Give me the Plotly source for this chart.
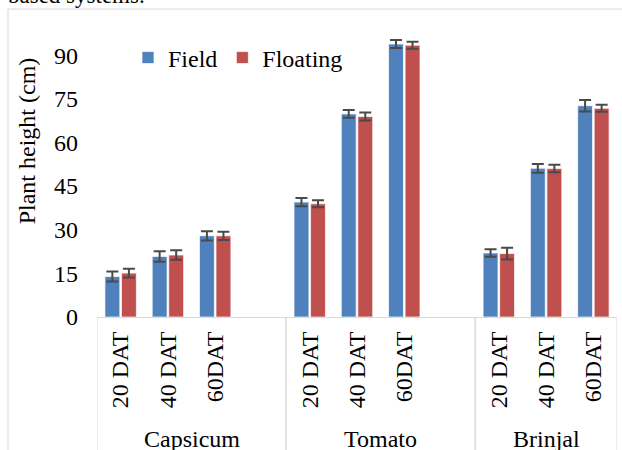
import plotly.graph_objects as go

crops = ["Capsicum", "Tomato", "Brinjal"]
stages = ["20 DAT", "40 DAT", "60DAT"]
field = [13.9, 20.8, 27.9, 39.5, 69.8, 93.8, 22.0, 51.1, 72.6]
floating = [15.1, 21.3, 27.9, 38.9, 68.9, 93.4, 21.8, 51.0, 71.7]
field_err = [1.7, 1.8, 1.6, 1.4, 1.3, 1.4, 1.3, 1.5, 2.0]
floating_err = [1.5, 1.6, 1.4, 1.2, 1.4, 1.2, 2.0, 1.3, 1.2]
y_ticks = [0, 15, 30, 45, 60, 75, 90]

FONT = "Liberation Serif"
GRID = "#D9D9D9"

# category slots (a blank slot after each crop except the last)
slots, slot_text, bar_x, group_bounds = [], [], [], []
for ci, crop in enumerate(crops):
    start = len(slots)
    for st in stages:
        key = f"{crop}|{st}"
        slots.append(key)
        slot_text.append(st)
        bar_x.append(key)
    if ci < len(crops) - 1:
        slots.append(f"{crop}|gap")
        slot_text.append("")
    group_bounds.append((start - 0.5, len(slots) - 0.5))

# pixel layout helpers
W, H = 622, 450
L, R, T = 97, 617, 26
Y0 = 317.5
B = H - Y0
PH = Y0 - T


def py(p):
    return (Y0 - p) / PH


def px(p):
    return (p - L) / (R - L)


fig = go.Figure()
fig.add_trace(go.Bar(
    name="Field", x=bar_x, y=field,
    marker=dict(color="#4F81BD", line=dict(color="rgba(255,255,255,0.7)", width=1)),
    error_y=dict(type="data", array=field_err, visible=True, color="#4A4A4A", thickness=2, width=6),
))
fig.add_trace(go.Bar(
    name="Floating", x=bar_x, y=floating,
    marker=dict(color="#C0504D", line=dict(color="rgba(255,255,255,0.7)", width=1)),
    error_y=dict(type="data", array=floating_err, visible=True, color="#4A4A4A", thickness=2, width=6),
))

shapes = []
for a, b in group_bounds:
    for xv in (a, b):
        shapes.append(dict(type="line", xref="x", yref="paper", x0=xv, x1=xv, y0=0, y1=py(470),
                           line=dict(color=GRID, width=1)))
# outer chart frame
shapes.append(dict(type="rect", xref="paper", yref="paper", x0=px(8), x1=px(640), y0=py(9), y1=py(480),
                   line=dict(color=GRID, width=1), fillcolor="rgba(0,0,0,0)", layer="below"))

annotations = []
for crop, (a, b) in zip(crops, group_bounds):
    annotations.append(dict(text=crop, xref="x", yref="paper", x=(a + b) / 2, y=py(425),
                            xanchor="center", yanchor="top", showarrow=False,
                            font=dict(family=FONT, size=24, color="black")))
annotations.append(dict(text="Plant height (cm)", xref="paper", yref="paper", x=px(27), y=py(141.5),
                        textangle=-90, xanchor="center", yanchor="middle", showarrow=False,
                        font=dict(family=FONT, size=24, color="black")))
annotations.append(dict(text="based systems.", xref="paper", yref="paper", x=px(6), y=py(10),
                        xanchor="left", yanchor="bottom", showarrow=False,
                        font=dict(family=FONT, size=23, color="black")))

fig.update_layout(
    width=W, height=H,
    margin=dict(l=L, r=W - R, t=T, b=B, pad=0),
    paper_bgcolor="white", plot_bgcolor="white",
    font=dict(family=FONT, size=24, color="black"),
    barmode="group", bargap=0.3, bargroupgap=0.1,
    showlegend=True,
    legend=dict(orientation="h", x=px(128), y=py(35.5), xanchor="left", yanchor="top",
                bgcolor="rgba(0,0,0,0)", font=dict(family=FONT, size=24, color="black"),
                itemwidth=30, tracegroupgap=0),
    xaxis=dict(type="category", categoryorder="array", categoryarray=slots,
               range=[-0.5, len(slots) - 0.5],
               tickmode="array", tickvals=slots, ticktext=slot_text, tickangle=-90,
               ticks="", showgrid=False, zeroline=False,
               showline=True, linecolor=GRID, linewidth=1,
               ticklabelstandoff=4,
               tickfont=dict(family=FONT, size=24, color="black")),
    yaxis=dict(range=[0, 100], tickmode="array", tickvals=y_ticks,
               showgrid=False, zeroline=False, showline=False, ticks="",
               ticklabelstandoff=18,
               tickfont=dict(family=FONT, size=24, color="black")),
    shapes=shapes, annotations=annotations,
)

fig.write_html(
    "out.html",
    config={"displayModeBar": False},
    post_script="document.body.style.margin='0';document.body.style.overflow='hidden';",
)
